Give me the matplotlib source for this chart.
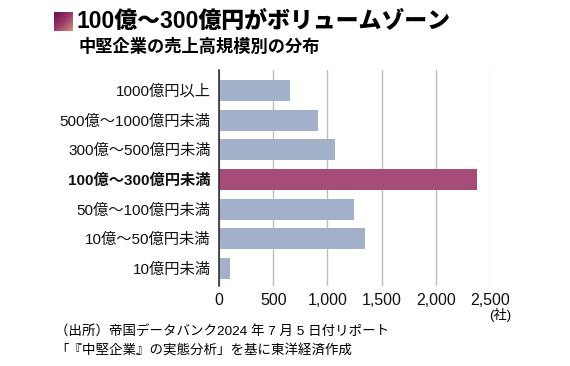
import numpy as np
import matplotlib.pyplot as plt
from matplotlib.colors import LinearSegmentedColormap

plt.rcParams['font.family'] = ['Liberation Sans', 'Noto Sans CJK JP', 'DejaVu Sans']

# Data (companies by sales size)
categories = ['1000億円以上', '500億～1000億円未満', '300億～500億円未満',
              '100億～300億円未満', '50億～100億円未満', '10億～50億円未満',
              '10億円未満']
counts = [655, 914, 1068, 2376, 1249, 1347, 101]
highlight = '100億～300億円未満'
x_ticks = [0, 500, 1000, 1500, 2000, 2500]

title = '100億～300億円がボリュームゾーン'
subtitle = '中堅企業の売上高規模別の分布'
source = ['（出所）帝国データバンク2024 年 7 月 5 日付リポート',
          '「『中堅企業』の実態分析」を基に東洋経済作成']

base_color = '#a3b0ca'
hl_color = '#a64c78'

fig = plt.figure(figsize=(5.7, 3.66), dpi=100)
ax = fig.add_axes([219 / 570, 1 - 286 / 366, 271 / 570, 216 / 366])

y = np.arange(len(categories))
colors = [hl_color if c == highlight else base_color for c in categories]
ax.barh(y, counts, height=0.71, color=colors, zorder=3)

ax.set_xlim(0, 2500)
ax.set_ylim(6.59, -0.69)
ax.set_xticks(x_ticks)
ax.set_xticklabels([f'{v:,}' for v in x_ticks], fontsize=11.5)
ax.set_yticks(y)
ax.set_yticklabels(categories, fontsize=11)
for lbl in ax.get_yticklabels():
    if lbl.get_text() == highlight:
        lbl.set_fontweight('bold')
ax.tick_params(axis='both', length=0, colors='#111111')
ax.tick_params(axis='x', pad=5)
ax.tick_params(axis='y', pad=6)

ax.grid(axis='x', color='#bdbdbd', linewidth=1, zorder=1)
for s in ['top', 'right', 'bottom']:
    ax.spines[s].set_visible(False)
ax.spines['left'].set_color('#222222')
ax.spines['left'].set_linewidth(1.1)
ax.spines['left'].set_zorder(4)

fig.text(511 / 570, 1 - 315 / 366, '(社)', fontsize=9.5, ha='right', va='center')

# gradient square next to the title
sq = fig.add_axes([54 / 570, 1 - 31 / 366, 19 / 570, 19 / 366])
grad = np.add.outer(np.linspace(0, 1, 50), np.linspace(0, 1, 50)) / 2
cmap = LinearSegmentedColormap.from_list('sq', ['#6a1048', '#9a3a6a', '#d6927e'])
sq.imshow(grad, cmap=cmap, aspect='auto')
sq.axis('off')

fig.text(77 / 570, 1 - 21 / 366, title, fontsize=16.5, fontweight='heavy',
         ha='left', va='center')
fig.text(78 / 570, 1 - 46 / 366, subtitle, fontsize=12.4, fontweight='bold',
         ha='left', va='center')

fig.text(55 / 570, 1 - 332 / 366, source[0], fontsize=9.7, ha='left', va='center')
fig.text(55 / 570, 1 - 351 / 366, source[1], fontsize=9.7, ha='left', va='center')

fig.savefig('out.png', dpi=100)
